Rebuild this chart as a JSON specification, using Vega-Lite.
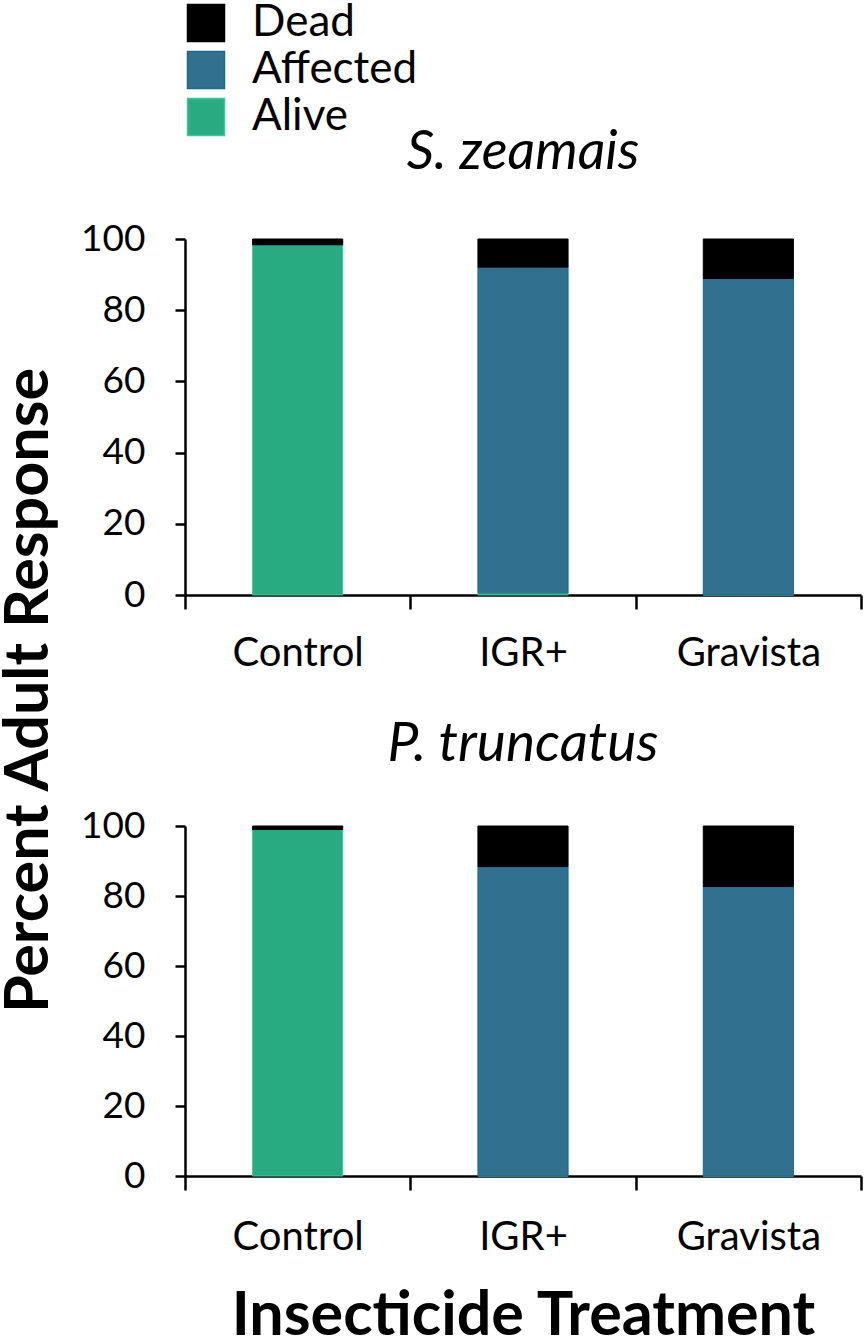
{
  "$schema": "https://vega.github.io/schema/vega-lite/v6.json",
  "padding": {"left": -2, "top": 1, "right": 0, "bottom": 0},
  "bounds": "flush",
  "spacing": 231,
  "config": {
    "font": "Lato",
    "view": {"stroke": null},
    "axis": {
      "domainColor": "#000000", "domainWidth": 2.5,
      "tickColor": "#000000", "tickWidth": 2.5,
      "labelColor": "#000000", "labelFont": "Lato",
      "titleFont": "Lato", "titleColor": "#000000", "grid": false
    },
    "legend": {
      "symbolType": "square", "symbolSize": 1369,
      "symbolStrokeColor": "#000000", "symbolStrokeWidth": 1.5,
      "labelFont": "Lato", "labelFontSize": 44, "labelColor": "#000000",
      "labelLimit": 400,
      "rowPadding": 3, "labelOffset": 24, "padding": 0
    },
    "title": {"font": "Lato", "color": "#000000"}
  },
  "datasets": {
    "d": [
      {"species": "S. zeamais", "treatment": "Control", "response": "Alive", "ord": 1, "pct": 98.4},
      {"species": "S. zeamais", "treatment": "Control", "response": "Affected", "ord": 2, "pct": 0},
      {"species": "S. zeamais", "treatment": "Control", "response": "Dead", "ord": 3, "pct": 1.6},
      {"species": "S. zeamais", "treatment": "IGR+", "response": "Alive", "ord": 1, "pct": 0.6},
      {"species": "S. zeamais", "treatment": "IGR+", "response": "Affected", "ord": 2, "pct": 91.5},
      {"species": "S. zeamais", "treatment": "IGR+", "response": "Dead", "ord": 3, "pct": 7.9},
      {"species": "S. zeamais", "treatment": "Gravista", "response": "Alive", "ord": 1, "pct": 0},
      {"species": "S. zeamais", "treatment": "Gravista", "response": "Affected", "ord": 2, "pct": 88.9},
      {"species": "S. zeamais", "treatment": "Gravista", "response": "Dead", "ord": 3, "pct": 11.1},
      {"species": "P. truncatus", "treatment": "Control", "response": "Alive", "ord": 1, "pct": 99.0},
      {"species": "P. truncatus", "treatment": "Control", "response": "Affected", "ord": 2, "pct": 0},
      {"species": "P. truncatus", "treatment": "Control", "response": "Dead", "ord": 3, "pct": 1.0},
      {"species": "P. truncatus", "treatment": "IGR+", "response": "Alive", "ord": 1, "pct": 0},
      {"species": "P. truncatus", "treatment": "IGR+", "response": "Affected", "ord": 2, "pct": 88.4},
      {"species": "P. truncatus", "treatment": "IGR+", "response": "Dead", "ord": 3, "pct": 11.6},
      {"species": "P. truncatus", "treatment": "Gravista", "response": "Alive", "ord": 1, "pct": 0},
      {"species": "P. truncatus", "treatment": "Gravista", "response": "Affected", "ord": 2, "pct": 82.7},
      {"species": "P. truncatus", "treatment": "Gravista", "response": "Dead", "ord": 3, "pct": 17.3}
    ]
  },
  "vconcat": [
    {
      "title": {"text": "S. zeamais", "fontStyle": "italic", "fontSize": 54, "fontWeight": "normal", "offset": 74, "baseline": "alphabetic", "frame": "group", "dy": 77},
      "width": 676,
      "height": 356,
      "data": {"name": "d"},
      "transform": [{"filter": "datum.species === 'S. zeamais'"}],
      "mark": {"type": "bar", "strokeWidth": 1, "width": {"band": 0.4}},
      "encoding": {
        "x": {
          "field": "treatment", "type": "nominal", "sort": ["Control", "IGR+", "Gravista"],
          "scale": {"paddingInner": 0, "paddingOuter": 0},
          "axis": {"title": null, "labelAngle": 0, "labelFontSize": 40, "labelPadding": 24, "tickSize": 14, "tickBand": "extent"}
        },
        "y": {
          "field": "pct", "type": "quantitative", "stack": "zero",
          "scale": {"domain": [0, 100], "nice": false},
          "axis": {"title": null, "values": [0, 20, 40, 60, 80, 100], "labelFontSize": 37, "labelPadding": 30, "tickSize": 10}
        },
        "color": {
          "field": "response", "type": "nominal",
          "scale": {"domain": ["Dead", "Affected", "Alive"], "range": ["#000000", "#31718f", "#29ab82"]},
          "legend": {"orient": "none", "legendX": -1, "legendY": -238, "title": null}
        },
        "stroke": {
          "field": "response", "type": "nominal",
          "scale": {"domain": ["Dead", "Affected", "Alive"], "range": ["#000000", "#1f6690", "#3cc896"]},
          "legend": null
        },
        "order": {"field": "ord", "type": "quantitative"}
      }
    },
    {
      "title": {"text": "P. truncatus", "fontStyle": "italic", "fontSize": 55, "fontWeight": "normal", "offset": 66, "baseline": "alphabetic", "frame": "group", "dy": 516},
      "width": 676,
      "height": 350,
      "data": {"name": "d"},
      "transform": [{"filter": "datum.species === 'P. truncatus'"}],
      "mark": {"type": "bar", "strokeWidth": 1, "width": {"band": 0.4}},
      "encoding": {
        "x": {
          "field": "treatment", "type": "nominal", "sort": ["Control", "IGR+", "Gravista"],
          "scale": {"paddingInner": 0, "paddingOuter": 0},
          "axis": {"title": "Insecticide Treatment", "titleFontSize": 61, "titleFontWeight": "bold", "titlePadding": 29, "labelAngle": 0, "labelFontSize": 40, "labelPadding": 27, "tickSize": 14, "tickBand": "extent"}
        },
        "y": {
          "field": "pct", "type": "quantitative", "stack": "zero",
          "scale": {"domain": [0, 100], "nice": false},
          "axis": {"title": "Percent Adult Response", "titleFontSize": 61, "titleFontWeight": "bold", "titlePadding": 20, "titleY": -136, "values": [0, 20, 40, 60, 80, 100], "labelFontSize": 37, "labelPadding": 30, "tickSize": 10}
        },
        "color": {
          "field": "response", "type": "nominal",
          "scale": {"domain": ["Dead", "Affected", "Alive"], "range": ["#000000", "#31718f", "#29ab82"]},
          "legend": {"orient": "none", "legendX": -1, "legendY": -238, "title": null}
        },
        "stroke": {
          "field": "response", "type": "nominal",
          "scale": {"domain": ["Dead", "Affected", "Alive"], "range": ["#000000", "#1f6690", "#3cc896"]},
          "legend": null
        },
        "order": {"field": "ord", "type": "quantitative"}
      }
    }
  ]
}
